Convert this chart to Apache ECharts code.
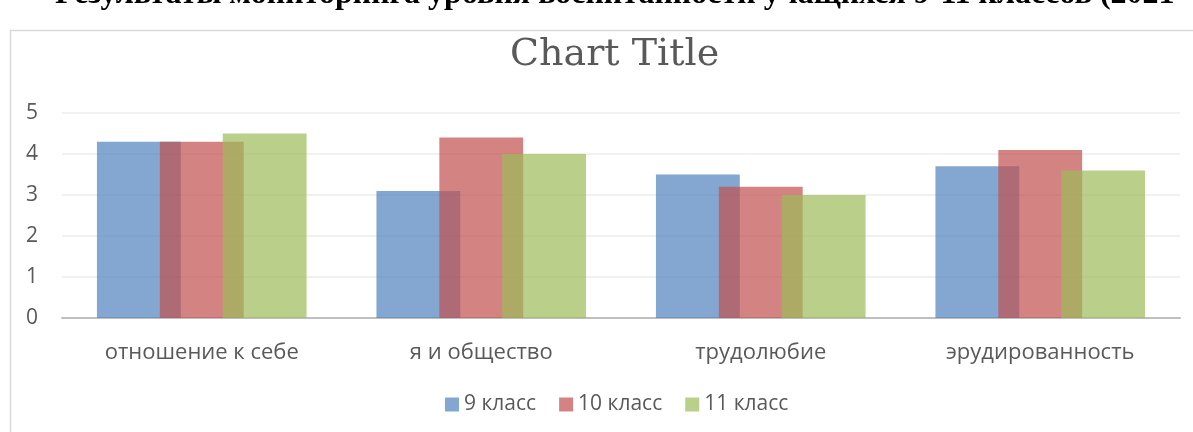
<!DOCTYPE html>
<html>
<head>
<meta charset="utf-8">
<script src="https://cdn.jsdelivr.net/npm/echarts@6/dist/echarts.min.js"></script>
<style>
  html, body { margin: 0; padding: 0; background: #fff; }
  #chart { width: 1193px; height: 432px; }
</style>
</head>
<body>
<div id="chart"></div>
<script>
const categories = ['отношение к себе', 'я и общество', 'трудолюбие', 'эрудированность']
const grade9 = [4.3, 3.1, 3.5, 3.7]
const grade10 = [4.3, 4.4, 3.2, 4.1]
const grade11 = [4.5, 4.0, 3.0, 3.6]
const seriesNames = ['9 класс', '10 класс', '11 класс']
const pageHeading = 'Результаты мониторинга уровня воспитанности учащихся 9-11 классов (2021'

const textColor = '#595959'
const font = 'Open Sans'

const chart = echarts.init(document.getElementById('chart'))

function bar(name, data, color) {
  return {
    name: name,
    type: 'bar',
    data: data,
    barGap: '-25%',
    barCategoryGap: '25%',
    itemStyle: { color: color, opacity: 0.7 },
    emphasis: { disabled: true }
  }
}

chart.setOption({
  animation: false,
  title: {
    text: 'Chart Title',
    left: 505,
    top: 31,
    textStyle: {
      color: textColor,
      fontFamily: 'DejaVu Serif',
      fontWeight: 'normal',
      fontSize: 38
    }
  },
  graphic: [
    {
      type: 'rect',
      shape: { x: 10.5, y: 30.5, width: 1200, height: 420 },
      style: { fill: 'none', stroke: '#d9d9d9', lineWidth: 1.5 },
      silent: true
    },
    {
      type: 'text',
      left: 55,
      top: -21,
      style: {
        text: pageHeading,
        fill: '#000',
        font: 'bold 32px "Liberation Serif"'
      },
      silent: true
    }
  ],
  legend: {
    data: seriesNames,
    bottom: 12,
    left: 440,
    itemWidth: 14,
    itemHeight: 14,
    itemGap: 23,
    icon: 'rect',
    textStyle: { color: textColor, fontFamily: font, fontSize: 21 }
  },
  grid: {
    left: 62,
    right: 13,
    top: 113,
    bottom: 114,
    containLabel: false
  },
  xAxis: {
    type: 'category',
    data: categories,
    axisTick: { show: false },
    axisLine: { lineStyle: { color: '#bfbfbf', width: 2 } },
    axisLabel: { color: textColor, fontFamily: font, fontSize: 22, margin: 24 }
  },
  yAxis: {
    type: 'value',
    min: 0,
    max: 5,
    interval: 1,
    axisLine: { show: false },
    axisTick: { show: false },
    splitLine: { lineStyle: { color: '#ececec', width: 1.5 } },
    axisLabel: { color: textColor, fontFamily: font, fontSize: 21, margin: 24 }
  },
  series: [
    bar(seriesNames[0], grade9, '#4f81bd'),
    bar(seriesNames[1], grade10, '#c0504d'),
    bar(seriesNames[2], grade11, '#9bbb59')
  ]
})
</script>
</body>
</html>
